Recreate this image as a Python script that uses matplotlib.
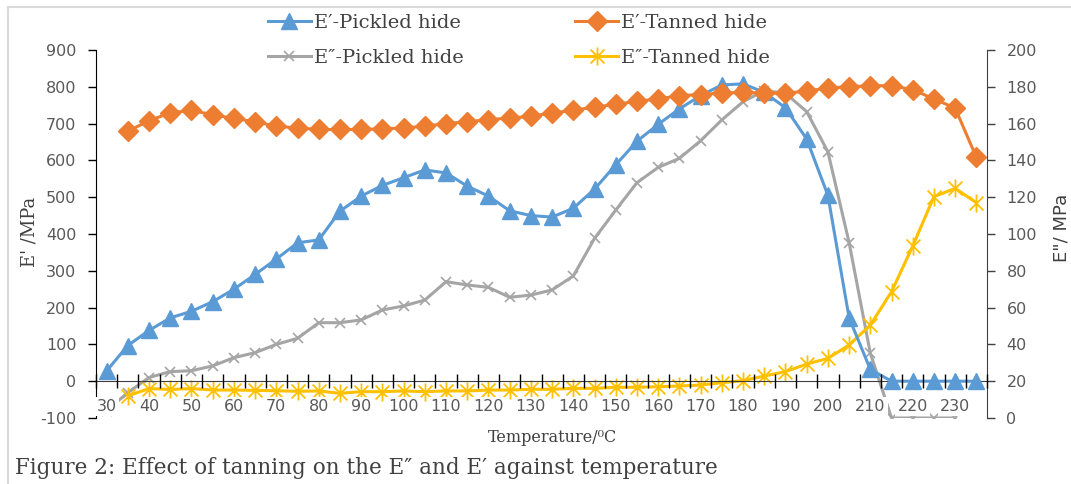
import numpy as np
import matplotlib
matplotlib.use('Agg')
import matplotlib.pyplot as plt
from matplotlib.lines import Line2D
from matplotlib.path import Path

plt.rcParams['axes.unicode_minus'] = False

# Temperaturas (categorías del eje x)
temps = [30, 35, 40, 45, 50, 55, 60, 65, 70, 75, 80, 85, 90, 95, 100, 105, 110,
         115, 120, 125, 130, 135, 140, 145, 150, 155, 160, 165, 170, 175, 180,
         185, 190, 195, 200, 205, 210, 215, 220, 225, 230, 235]

# E' (eje izquierdo)
e1_pickled = [28, 97, 138, 172, 190, 216, 250, 290, 332, 376, 384, 462, 503, 532,
              553, 574, 566, 530, 503, 463, 450, 446, 470, 522, 588, 652, 698,
              740, 776, 805, 808, 785, 743, 658, 505, 172, 32, 0, 0, 0, 0, 0]
e1_tanned = [np.nan, 679, 708, 729, 736, 724, 714, 705, 693, 688, 684, 684, 684,
             686, 688, 693, 700, 705, 711, 715, 720, 729, 736, 745, 752, 761, 767,
             776, 779, 783, 785, 783, 783, 788, 797, 800, 803, 803, 792, 767, 742, 608]

# E'' (eje derecho)
e2_pickled = [4, 13.8, 22, 25.2, 25.7, 28.3, 32.8, 35.5, 40, 43.3, 51.8, 51.8, 53.3,
              58.7, 60.9, 64.1, 74.1, 72.3, 71, 65.6, 66.8, 69.6, 77.2, 97.6, 113,
              127.9, 136.2, 141.1, 150.7, 162, 171.9, 177.9, 176.5, 166.5, 144.7,
              95.3, 35.2, 0, 0, 0, 0, np.nan]
e2_tanned = [np.nan, 12, 16, 15.5, 16, 15.2, 15.2, 15, 14.8, 14.5, 14.7, 13.4, 14.3,
             14.3, 14.7, 14.3, 14.7, 14.7, 15.2, 15.2, 15.6, 15.6, 16.1, 16.1, 16.7,
             16.7, 17, 17.4, 17.9, 19.2, 20.3, 22.8, 25.2, 29.3, 32.4, 39.7, 50.5,
             68.6, 93.5, 120.3, 124.8, 117]

labels = ['E′-Pickled hide', 'E′-Tanned hide', 'E″-Pickled hide', 'E″-Tanned hide']
colores = ['#5B9BD5', '#ED7D31', '#A5A5A5', '#FFC000']

serif = ['DejaVu Serif']
gris_txt = '#404040'

pos = np.arange(len(temps))

fig = plt.figure(figsize=(10.71, 4.84), dpi=100)
W, H = 1071, 484
ax = fig.add_axes([96 / W, 1 - 418 / H, (987 - 96) / W, (418 - 50) / H])
ax2 = ax.twinx()

# marcador tipo asterisco de Excel
estrella = Path([(-1, -1), (1, 1), (-1, 1), (1, -1), (0, -1.3), (0, 1.3)],
                [Path.MOVETO, Path.LINETO, Path.MOVETO, Path.LINETO, Path.MOVETO, Path.LINETO])

l1, = ax.plot(pos, e1_pickled, color=colores[0], lw=2.2, marker='^', ms=12,
              mec=colores[0], mfc=colores[0], zorder=3)
l2, = ax.plot(pos, e1_tanned, color=colores[1], lw=2.2, marker='D', ms=10.5,
              mec=colores[1], mfc=colores[1], zorder=3)
l3, = ax2.plot(pos, e2_pickled, color=colores[2], lw=2.2, marker='x', ms=7, mew=1.2,
               mec=colores[2])
l4, = ax2.plot(pos, e2_tanned, color=colores[3], lw=2.2, marker=estrella, ms=13,
               mew=1.3, mec=colores[3], mfc='none')

# eje primario encima del secundario
ax.set_zorder(ax2.get_zorder() + 1)
ax.patch.set_visible(False)

ax.set_xlim(-0.5, len(temps) - 0.5)
ax.set_ylim(-100, 900)
ax.set_yticks(np.arange(-100, 901, 100))
ax2.set_ylim(0, 200)
ax2.set_yticks(np.arange(0, 201, 20))

ax.spines['top'].set_visible(False)
ax.spines['right'].set_visible(False)
ax.spines['bottom'].set_position(('data', 0))
ax.spines['bottom'].set_color('#404040')
ax.spines['left'].set_color('black')
for s in ['top', 'left', 'bottom']:
    ax2.spines[s].set_visible(False)
ax2.spines['right'].set_color('#404040')

ax.set_xticks(pos[::2], [str(t) for t in temps[::2]])
ax.set_xticks(np.arange(-0.5, len(temps)), minor=True)
ax.tick_params(axis='x', which='major', length=0, pad=13, labelsize=11.5,
               labelcolor='#595959')
ax.tick_params(axis='x', which='minor', direction='inout', length=10, width=1,
               color='black')
ax.tick_params(axis='y', direction='out', length=6, width=1, pad=8,
               labelsize=11.5, labelcolor='#595959')
ax2.tick_params(axis='y', direction='out', length=6, width=1, pad=8,
                labelsize=11.5, labelcolor='#595959', color='#404040')
ax.xaxis.set_zorder(3.5)
for lbl in ax.get_xticklabels():
    lbl.set_bbox(dict(facecolor='white', edgecolor='none', pad=1.5))

# títulos de ejes
fig.text(30 / W, 1 - 232 / H, "E' /MPa", rotation=90, ha='center', va='center',
         family=serif, fontsize=13, color=gris_txt)
fig.text(1062 / W, 1 - 228 / H, 'E"/ MPa', rotation=90, ha='center', va='center',
         fontsize=13, color='#404040')
fig.text(553 / W, 1 - 438 / H, 'Temperature/⁰C', ha='center', va='center',
         family=serif, fontsize=11.5, color=gris_txt)
fig.text(15 / W, 1 - 468 / H, 'Figure 2: Effect of tanning on the E″ and E′ against temperature',
         ha='left', va='center', family=serif, fontsize=15.5, color=gris_txt)

# leyenda
leg = fig.legend([l1, l3, l2, l4], [labels[0], labels[2], labels[1], labels[3]],
                 ncol=2, loc='upper left', bbox_to_anchor=(268 / W, 1 - 14 / H),
                 frameon=False, borderpad=0, borderaxespad=0, handlelength=2.2,
                 handletextpad=0.15, columnspacing=5.75, labelspacing=0.85,
                 prop={'family': serif, 'size': 14})
for t in leg.get_texts():
    t.set_color(gris_txt)

# borde del área del gráfico
fig.add_artist(Line2D([8 / W, 1.0], [1 - 7 / H, 1 - 7 / H], color='#D9D9D9', lw=1.5,
                      transform=fig.transFigure))
fig.add_artist(Line2D([8 / W, 8 / W], [0.0, 1 - 7 / H], color='#D9D9D9', lw=1.5,
                      transform=fig.transFigure))

fig.savefig('out.png', dpi=100)
